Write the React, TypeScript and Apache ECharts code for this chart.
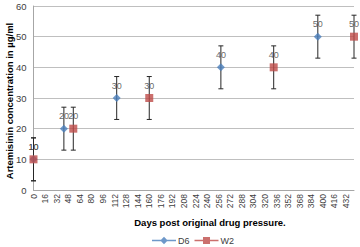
import React, { useEffect, useRef } from "react";
import * as echarts from "echarts";

const daysD6 = [0, 42, 115, 259, 393];
const valuesD6 = [10, 20, 30, 40, 50];
const errD6 = [7, 7, 7, 7, 7];
const daysW2 = [0, 55, 160, 332, 443];
const valuesW2 = [10, 20, 30, 40, 50];
const errW2 = [7, 7, 7, 7, 7];
const xMax = 443;
const xStep = 16;
const yTicks = [0, 10, 20, 30, 40, 50, 60];

const FONT = "Liberation Sans";
const TXT = "#404040";

const iconD6 = "path://M0,3.2L24,3.2L24,4.8L0,4.8Z M12,0.3L15.7,4L12,7.7L8.3,4Z";
const iconW2 = "path://M0,3.2L24,3.2L24,4.8L0,4.8Z M8.5,0.5L15.5,0.5L15.5,7.5L8.5,7.5Z";

export default function App() {
  const ref = useRef<HTMLDivElement>(null);
  useEffect(() => {
    if (!ref.current) return;
    const chart = echarts.init(ref.current, null, { renderer: "svg" });
    const d6 = daysD6.map((d, i) => [d, valuesD6[i]]);
    const w2 = daysW2.map((d, i) => [d, valuesW2[i]]);
    const errData = [
      ...daysD6.map((d, i) => [d, valuesD6[i] - errD6[i], valuesD6[i] + errD6[i]]),
      ...daysW2.map((d, i) => [d, valuesW2[i] - errW2[i], valuesW2[i] + errW2[i]]),
    ];
    const labelCfg = {
      show: true,
      position: "top",
      distance: 4,
      color: TXT,
      fontSize: 9,
      fontFamily: FONT,
    };
    chart.setOption({
      animation: false,
      grid: { left: 33.5, right: 6, top: 6, bottom: 57, containLabel: false },
      xAxis: {
        type: "value",
        min: 0,
        max: xMax,
        interval: xStep,
        axisLine: { show: true, lineStyle: { color: "#a6a6a6" } },
        axisTick: { show: false },
        splitLine: { show: false },
        axisLabel: {
          rotate: 90,
          fontSize: 8.5,
          color: TXT,
          fontFamily: FONT,
          margin: 4,
          showMaxLabel: false,
        },
      },
      yAxis: {
        type: "value",
        min: yTicks[0],
        max: yTicks[yTicks.length - 1],
        interval: 10,
        axisLine: { show: true, lineStyle: { color: "#a6a6a6" } },
        axisTick: { show: false },
        splitLine: { show: true, lineStyle: { color: "#bfbfbf", width: 1 } },
        axisLabel: { fontSize: 9.5, color: TXT, fontFamily: FONT, margin: 7 },
      },
      legend: {
        bottom: 0,
        left: 147,
        padding: [2, 5, 2, 5],
        itemWidth: 24,
        itemHeight: 8,
        itemGap: 5,
        textStyle: { fontSize: 9, color: TXT, fontFamily: FONT, padding: [0, 0, 0, -3] },
        data: [
          { name: "D6", icon: iconD6 },
          { name: "W2", icon: iconW2 },
        ],
      },
      graphic: [
        {
          type: "text",
          x: 9,
          y: 101,
          rotation: Math.PI / 2,
          style: {
            text: "Artemisinin concentration in µg/ml",
            fontSize: 9.5,
            fontWeight: "bold",
            fontFamily: FONT,
            fill: "#000",
            align: "center",
            verticalAlign: "middle",
          },
        },
        {
          type: "text",
          x: 210,
          y: 222,
          style: {
            text: "Days post original drug pressure.",
            fontSize: 9.5,
            fontWeight: "bold",
            fontFamily: FONT,
            fill: "#000",
            align: "center",
            verticalAlign: "middle",
          },
        },
      ],
      series: [
        {
          type: "custom",
          name: "err",
          data: errData,
          z: 1,
          renderItem: (params: any, api: any) => {
            const x = api.value(0);
            const top = api.coord([x, api.value(2)]);
            const bot = api.coord([x, api.value(1)]);
            const st = { stroke: "#262626", lineWidth: 1 };
            const c = 2.5;
            return {
              type: "group",
              children: [
                { type: "line", shape: { x1: top[0], y1: top[1], x2: bot[0], y2: bot[1] }, style: st },
                { type: "line", shape: { x1: top[0] - c, y1: top[1], x2: top[0] + c, y2: top[1] }, style: st },
                { type: "line", shape: { x1: bot[0] - c, y1: bot[1], x2: bot[0] + c, y2: bot[1] }, style: st },
              ],
            };
          },
        },
        {
          type: "scatter",
          name: "D6",
          data: d6,
          symbol: "diamond",
          symbolSize: 8,
          z: 3,
          itemStyle: { color: "#4a7ebb" },
          label: labelCfg,
        },
        {
          type: "scatter",
          name: "W2",
          data: w2,
          symbol: "rect",
          symbolSize: 8,
          z: 4,
          itemStyle: { color: "#be4b48" },
          label: labelCfg,
        },
      ],
    });
    return () => chart.dispose();
  }, []);
  return (
    <div
      ref={ref}
      style={{ position: "absolute", left: 0, top: 0, width: 360, height: 247 }}
    />
  );
}
